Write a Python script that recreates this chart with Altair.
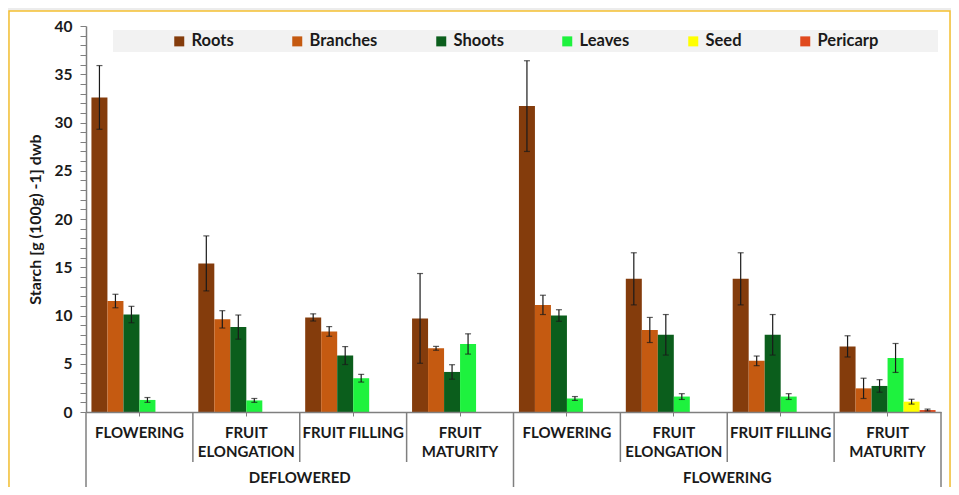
import altair as alt
import pandas as pd

# ---------------- data ----------------
groups = ["D1", "D2", "D3", "D4", "F1", "F2", "F3", "F4"]
stage_line1 = ["FLOWERING", "FRUIT", "FRUIT FILLING", "FRUIT",
               "FLOWERING", "FRUIT", "FRUIT FILLING", "FRUIT"]
stage_line2 = ["", "ELONGATION", "", "MATURITY",
               "", "ELONGATION", "", "MATURITY"]
treatments = ["DEFLOWERED", "FLOWERING"]
treatment_anchor = ["D3", "F3"]   # label centred at the start of this group

series = ["Roots", "Branches", "Shoots", "Leaves", "Seed", "Pericarp"]
colors = ["#843c0c", "#c55a11", "#0b5e1c", "#1ef23e", "#ffff00", "#e0491d"]

roots = [32.6, 15.4, 9.8, 9.7, 31.7, 13.8, 13.8, 6.8]
roots_err = [3.3, 2.85, 0.37, 4.65, 4.7, 2.7, 2.7, 1.1]
branches = [11.5, 9.6, 8.35, 6.6, 11.1, 8.5, 5.3, 2.45]
branches_err = [0.7, 0.9, 0.5, 0.2, 1.0, 1.3, 0.5, 1.05]
shoots = [10.1, 8.8, 5.85, 4.15, 10.0, 8.0, 8.0, 2.7]
shoots_err = [0.85, 1.25, 0.93, 0.75, 0.6, 2.1, 2.1, 0.65]
leaves = [1.25, 1.2, 3.5, 7.05, 1.4, 1.6, 1.6, 5.6]
leaves_err = [0.25, 0.2, 0.4, 1.05, 0.2, 0.3, 0.3, 1.5]
seed = [None, None, None, None, None, None, None, 1.07]
seed_err = [None, None, None, None, None, None, None, 0.25]
pericarp = [None, None, None, None, None, None, None, 0.2]
pericarp_err = [None, None, None, None, None, None, None, 0.1]

y_ticks = list(range(0, 41))

values = [roots, branches, shoots, leaves, seed, pericarp]
errors = [roots_err, branches_err, shoots_err, leaves_err, seed_err, pericarp_err]

rows = []
for s, vals, errs in zip(series, values, errors):
    for g, v, e in zip(groups, vals, errs):
        if v is not None:
            rows.append({"grp": g, "series": s, "value": v,
                         "lo": v - e, "hi": v + e})
df = pd.DataFrame(rows)

labels_df = pd.DataFrame({"grp": groups, "line1": stage_line1, "line2": stage_line2})
treat_df = pd.DataFrame({"grp": treatment_anchor, "name": treatments})
sep_short = pd.DataFrame({"grp": ["D2", "D3", "D4", "F2", "F3", "F4"]})
sep_long_start = pd.DataFrame({"grp": ["D1", "F1"]})
sep_long_end = pd.DataFrame({"grp": ["F4"]})
one = pd.DataFrame({"a": [0]})

# ---------------- style ----------------
FONT = "Lato"
TXT = "#1a1a1a"
AX = "#7f7f7f"
W, H = 855, 386
ytitle = "Starch [g (100g) -1] dwb"

xscale = alt.Scale(domain=groups, paddingInner=0, paddingOuter=0)
offscale = alt.Scale(domain=series, paddingInner=0, paddingOuter=0.34)
yscale = alt.Scale(domain=[0, 40], nice=False)

xaxis = alt.Axis(labels=False, title=None, ticks=True, tickSize=4, tickColor=AX,
                 domainColor=AX, domainWidth=1.5, grid=False, zindex=1)
yaxis = alt.Axis(values=y_ticks, tickCount=len(y_ticks),
                 labelExpr="datum.value % 5 === 0 ? datum.label : ''",
                 labelOverlap=False, tickSize=6, tickColor=AX, domainColor=AX,
                 domainWidth=1.5, labelFont=FONT, labelFontSize=15.5,
                 labelFontWeight="bold", labelColor=TXT, labelPadding=8,
                 titleFont=FONT, titleFontSize=16, titleFontWeight="bold",
                 titleColor=TXT, titlePadding=11, grid=False, zindex=1)


def X(**kw):
    return alt.X("grp:N", scale=xscale, axis=xaxis, title=None, **kw)


def Y(field):
    return alt.Y(field, scale=yscale, axis=yaxis, title=ytitle)


OFF = alt.XOffset("series:N", scale=offscale)

frame = alt.Chart(one).mark_rect(fill="white", stroke="#f5c030", strokeWidth=1.5).encode(
    x=alt.value(-77), x2=alt.value(864), y=alt.value(-15), y2=alt.value(480))
band = alt.Chart(one).mark_rect(fill="#f2f2f2").encode(
    x=alt.value(27), x2=alt.value(852), y=alt.value(4), y2=alt.value(26))

bars = alt.Chart(df).mark_bar().encode(
    x=X(), xOffset=OFF, y=Y("value:Q"),
    color=alt.Color("series:N", scale=alt.Scale(domain=series, range=colors),
                    legend=alt.Legend(orient="none", legendX=85, legendY=7,
                                      direction="horizontal", title=None,
                                      symbolType="square", symbolSize=100,
                                      symbolStrokeWidth=0, labelFont=FONT,
                                      labelFontSize=16.5, labelFontWeight="bold",
                                      labelColor=TXT, columnPadding=55,
                                      labelOffset=4, padding=0, gridAlign="each",
                                      zindex=1)),
)

err_rule = alt.Chart(df).mark_rule(color="#1a1a1a", strokeWidth=1.2).encode(
    x=X(), xOffset=OFF, y=Y("lo:Q"), y2="hi:Q")
cap_hi = alt.Chart(df).mark_tick(color="#1a1a1a", orient="horizontal", size=6, thickness=1.2).encode(
    x=X(), xOffset=OFF, y=Y("hi:Q"))
cap_lo = alt.Chart(df).mark_tick(color="#1a1a1a", orient="horizontal", size=6, thickness=1.2).encode(
    x=X(), xOffset=OFF, y=Y("lo:Q"))

sep1 = alt.Chart(sep_short).mark_rule(color=AX, strokeWidth=1.5).encode(
    x=X(bandPosition=0), y=alt.value(H), y2=alt.value(H + 50))
sep2 = alt.Chart(sep_long_start).mark_rule(color=AX, strokeWidth=1.5).encode(
    x=X(bandPosition=0), y=alt.value(H), y2=alt.value(H + 80))
sep3 = alt.Chart(sep_long_end).mark_rule(color=AX, strokeWidth=1.5).encode(
    x=X(bandPosition=1), y=alt.value(H), y2=alt.value(H + 80))

txt_kw = dict(font=FONT, fontSize=15, fontWeight="bold", color=TXT)
lab1 = alt.Chart(labels_df).mark_text(baseline="middle", **txt_kw).encode(
    x=X(), y=alt.value(H + 21), text="line1:N")
lab2 = alt.Chart(labels_df).mark_text(baseline="middle", **txt_kw).encode(
    x=X(), y=alt.value(H + 40), text="line2:N")
lab3 = alt.Chart(treat_df).mark_text(baseline="alphabetic", **txt_kw).encode(
    x=X(bandPosition=0), y=alt.value(H + 71), text="name:N")

chart = alt.layer(
    frame, band, bars, err_rule, cap_hi, cap_lo, sep1, sep2, sep3, lab1, lab2, lab3
).properties(
    width=W, height=H,
    autosize=alt.AutoSizeParams(type="none"),
    padding={"left": 78, "top": 18, "right": 10, "bottom": 75},
    background="#ececec",
).configure_view(stroke=None)

chart.save("out.html", embed_options={"renderer": "svg", "actions": False})
